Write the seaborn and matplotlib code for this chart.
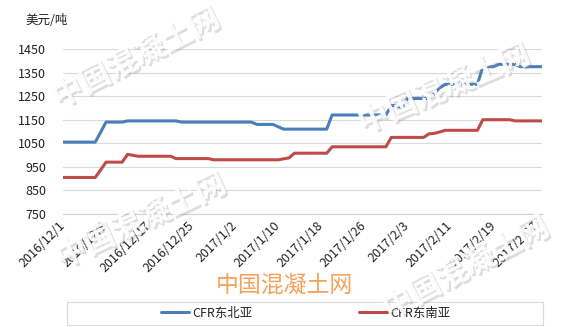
import matplotlib
matplotlib.use('Agg')
import matplotlib.pyplot as plt
import matplotlib.patheffects as pe
from matplotlib.patches import Rectangle
import seaborn as sns
import pandas as pd

# ---- data ----
ne_dates = ['2016-12-01', '2016-12-07', '2016-12-09', '2016-12-12', '2016-12-13', '2016-12-22',
            '2016-12-23', '2017-01-05', '2017-01-06', '2017-01-09', '2017-01-11', '2017-01-19',
            '2017-01-20', '2017-01-30', '2017-01-31', '2017-02-01', '2017-02-02', '2017-02-03',
            '2017-02-07', '2017-02-08', '2017-02-09', '2017-02-10', '2017-02-16', '2017-02-17',
            '2017-02-19', '2017-02-20', '2017-02-23', '2017-02-24', '2017-02-28']
ne_values = [1055, 1055, 1140, 1140, 1145, 1145,
             1140, 1140, 1130, 1130, 1110, 1110,
             1170, 1170, 1210, 1210, 1200, 1240,
             1240, 1260, 1285, 1300, 1300, 1375,
             1375, 1385, 1385, 1375, 1375]

se_dates = ['2016-12-01', '2016-12-07', '2016-12-09', '2016-12-12', '2016-12-13', '2016-12-15',
            '2016-12-21', '2016-12-22', '2016-12-28', '2016-12-29', '2017-01-10', '2017-01-12',
            '2017-01-13', '2017-01-19', '2017-01-20', '2017-01-30', '2017-01-31', '2017-02-06',
            '2017-02-07', '2017-02-08', '2017-02-09', '2017-02-10', '2017-02-16', '2017-02-17',
            '2017-02-22', '2017-02-23', '2017-02-28']
se_values = [905, 905, 970, 970, 1003, 995,
             995, 985, 985, 980, 980, 988,
             1008, 1008, 1035, 1035, 1075, 1075,
             1090, 1092, 1098, 1105, 1105, 1150,
             1150, 1145, 1145]

series_names = ['CFR东北亚', 'CFR东南亚']
series_colors = ['#4a7ebb', '#be4b48']
y_ticks = [750, 850, 950, 1050, 1150, 1250, 1350, 1450]
x_tick_dates = ['2016-12-01', '2016-12-09', '2016-12-17', '2016-12-25', '2017-01-02', '2017-01-10',
                '2017-01-18', '2017-01-26', '2017-02-03', '2017-02-11', '2017-02-19', '2017-02-27']
x_tick_labels = ['2016/12/1', '2016/12/9', '2016/12/17', '2016/12/25', '2017/1/2', '2017/1/10',
                 '2017/1/18', '2017/1/26', '2017/2/3', '2017/2/11', '2017/2/19', '2017/2/27']
y_unit = '美元/吨'
watermark = '中国混凝土网'

# ---- build long table ----
df = pd.concat([
    pd.DataFrame({'date': pd.to_datetime(ne_dates), 'value': ne_values, 'series': series_names[0]}),
    pd.DataFrame({'date': pd.to_datetime(se_dates), 'value': se_values, 'series': series_names[1]}),
], ignore_index=True)

sns.set_style('white')
plt.rcParams['font.family'] = ['Noto Sans CJK SC', 'DejaVu Sans']

W, H = 566, 327
fig = plt.figure(figsize=(W / 100, H / 100), dpi=100)
ax = fig.add_axes([63 / W, 1 - 214 / H, (542 - 63) / W, (214 - 49) / H])

sns.lineplot(data=df, x='date', y='value', hue='series', hue_order=series_names,
             palette=series_colors, linewidth=2.2, ax=ax, legend=True)
handles, labels = ax.get_legend_handles_labels()
ax.get_legend().remove()

ax.set_xlim(pd.Timestamp('2016-12-01'), pd.Timestamp('2017-02-28'))
ax.set_ylim(y_ticks[0], y_ticks[-1])
ax.set_yticks(y_ticks)
ax.set_yticklabels([str(v) for v in y_ticks], fontsize=9, color='#222222')
ax.set_xticks(pd.to_datetime(x_tick_dates))
ax.set_xticklabels(x_tick_labels, fontsize=9, color='#222222', rotation=45,
                   ha='right', va='center', rotation_mode='anchor')
ax.set_xlabel('')
ax.set_ylabel('')
ax.grid(axis='y', color='#d9d9d9', linewidth=0.8)
ax.grid(axis='x', visible=False)
for s in ['top', 'right', 'left']:
    ax.spines[s].set_visible(False)
ax.spines['bottom'].set_color('#d0d0d0')
ax.spines['bottom'].set_linewidth(0.8)
ax.tick_params(axis='x', length=4, color='#d0d0d0', width=0.8, pad=3)
ax.tick_params(axis='y', length=0, pad=12)

fig.text(25 / W, 1 - 21 / H, y_unit, fontsize=9, color='#222222', va='center', ha='left')

# legend with box
fig.patches.append(Rectangle((67 / W, 2 / H), 476 / W, 23 / H, transform=fig.transFigure,
                             fill=False, edgecolor='#d9d9d9', linewidth=0.8))
fig.legend(handles, labels, loc='center', bbox_to_anchor=(306 / W, 1 - 313 / H), ncol=2,
           frameon=False, fontsize=9, handlelength=2.2, handletextpad=0.3, columnspacing=8.5)

# orange watermark text
fig.text(284 / W, 1 - 285 / H, watermark, fontsize=16.5, color='#f4a25c',
         ha='center', va='center')

# embossed diagonal watermarks
emb = [pe.withSimplePatchShadow(offset=(1.5, -1.5), shadow_rgbFace='#909090', alpha=0.3), pe.Normal()]
for (cx, cy, rot) in [(136, 58, 27), (141, 221, 25), (444, 89, 23), (466, 268, 28)]:
    fig.text(cx / W, 1 - cy / H, watermark, fontsize=22, fontweight='bold', color='white',
             alpha=0.7, ha='center', va='center', rotation=rot, rotation_mode='anchor',
             path_effects=emb, zorder=10)

fig.savefig('out.png', dpi=100, facecolor='white')
